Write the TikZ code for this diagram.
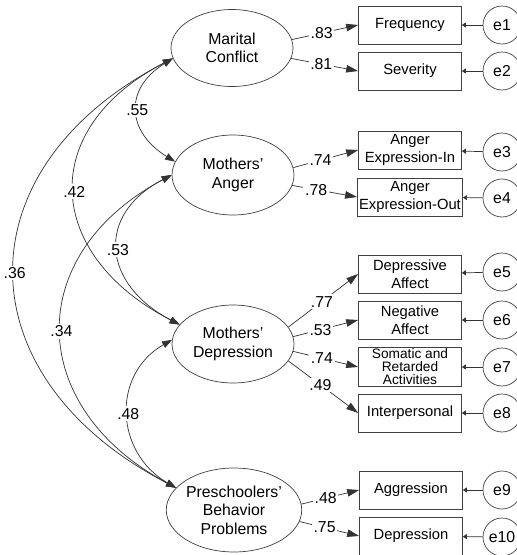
\documentclass[tikz,border=0pt]{standalone}
\usepackage{fontspec}
\setmainfont{Liberation Sans}
\usetikzlibrary{arrows.meta,shapes.geometric}

\tikzset{
  latent/.style={ellipse, draw=black!75, minimum width=2.44cm, inner sep=0pt, align=center, font=\fontsize{9}{10.5}\selectfont},
  indic/.style={rectangle, draw=black!75, minimum width=2.06cm, minimum height=0.76cm, inner sep=1pt, align=center},
  err/.style={circle, draw=black!75, minimum size=0.76cm, inner sep=0pt, font=\fontsize{9}{10}\selectfont},
  load/.style={draw=black!80, -{Triangle[length=2.4mm,width=1.5mm]}},
  cov/.style={draw=black!80, {Triangle[length=2mm,width=1.4mm]}-{Triangle[length=2mm,width=1.4mm]}},
  res/.style={draw=black!80, -{Triangle[length=0.8mm,width=1mm]}},
  coef/.style={fill=white, inner sep=1pt, pos=0.45, font=\fontsize{9}{10}\selectfont},
}

\begin{document}
\begin{tikzpicture}[x=0.02cm, y=-0.02cm, font=\fontsize{8.4}{10}\selectfont]
\useasboundingbox (0,0) rectangle (517,555);
\clip (0,0) rectangle (517,555);

% Latent variables
\node[latent, minimum height=1.54cm] (mc) at (232,48) {Marital\\Conflict};
\node[latent, minimum height=1.60cm] (ma) at (233,175) {Mothers'\\Anger};
\node[latent, minimum height=1.56cm] (md) at (233,344) {Mothers'\\Depression};
\node[latent, minimum height=1.68cm] (pb) at (234,510) {Preschoolers'\\Behavior\\Problems};

% Indicators
\node[indic] (freq) at (410,25) {Frequency};
\node[indic] (sev) at (410,71) {Severity};
\node[indic] (ain) at (410,150) {Anger\\Expression-In};
\node[indic] (aout) at (410,197) {Anger\\Expression-Out};
\node[indic] (dep) at (410,274) {Depressive\\Affect};
\node[indic] (neg) at (410,320) {Negative\\Affect};
\node[indic, font=\fontsize{7.8}{7.4}\selectfont] (som) at (410,367) {Somatic and\\Retarded\\Activities};
\node[indic] (inter) at (410,413) {Interpersonal};
\node[indic] (aggr) at (411,490) {Aggression};
\node[indic] (depr) at (411,536) {Depression};

% Errors
\node[err] (e1) at (502,25) {e1};
\node[err] (e2) at (502,71) {e2};
\node[err] (e3) at (502,152) {e3};
\node[err] (e4) at (502,198) {e4};
\node[err] (e5) at (502,272) {e5};
\node[err] (e6) at (502,320) {e6};
\node[err] (e7) at (502,367) {e7};
\node[err] (e8) at (502,413) {e8};
\node[err] (e9) at (502,490) {e9};
\node[err] (e10) at (502,537) {e10};

% Loadings
\draw[load] (mc.8) -- node[coef]{.83} (freq.west);
\draw[load] (mc.-10) -- node[coef]{.81} (sev.west);
\draw[load] (ma.7) -- node[coef, pos=0.42]{.74} (ain.west);
\draw[load] (ma.-10) -- node[coef, pos=0.37]{.78} (aout.west);
\draw[load] (md.17) -- node[coef, pos=0.48]{.77} (dep.west);
\draw[load] (md.7) -- node[coef, pos=0.42]{.53} (neg.west);
\draw[load] (md.-7) -- node[coef, pos=0.44]{.74} (som.west);
\draw[load] (md.-17) -- node[coef, pos=0.46]{.49} (inter.west);
\draw[load] (pb.5) -- node[coef, pos=0.42]{.48} (aggr.west);
\draw[load] (pb.-10) -- node[coef, pos=0.42]{.75} (depr.west);

% Residuals
\foreach \e/\b in {e1/freq, e2/sev, e3/ain, e4/aout, e5/dep, e6/neg, e7/som, e8/inter, e9/aggr, e10/depr}
  \draw[res] (\e) -- (\b);

% Covariances
\draw[cov] (mc.190) .. controls +(-49,30) and +(-49,-30) .. node[coef, pos=0.5]{.55} (ma.167);
\draw[cov] (mc.190) .. controls +(-136,70) and +(-136,-70) .. node[coef, pos=0.5]{.42} (md.160);
\draw[cov] (mc.190) .. controls +(-213,110) and +(-213,-110) .. node[coef, pos=0.5]{.36} (pb.159);
\draw[cov] (ma.180) .. controls +(-77,40) and +(-77,-40) .. node[coef, pos=0.5]{.53} (md.160);
\draw[cov] (ma.180) .. controls +(-150,80) and +(-150,-80) .. node[coef, pos=0.5]{.34} (pb.159);
\draw[cov] (md.176) .. controls +(-61,35) and +(-61,-35) .. node[coef, pos=0.5]{.48} (pb.159);

\end{tikzpicture}
\end{document}
